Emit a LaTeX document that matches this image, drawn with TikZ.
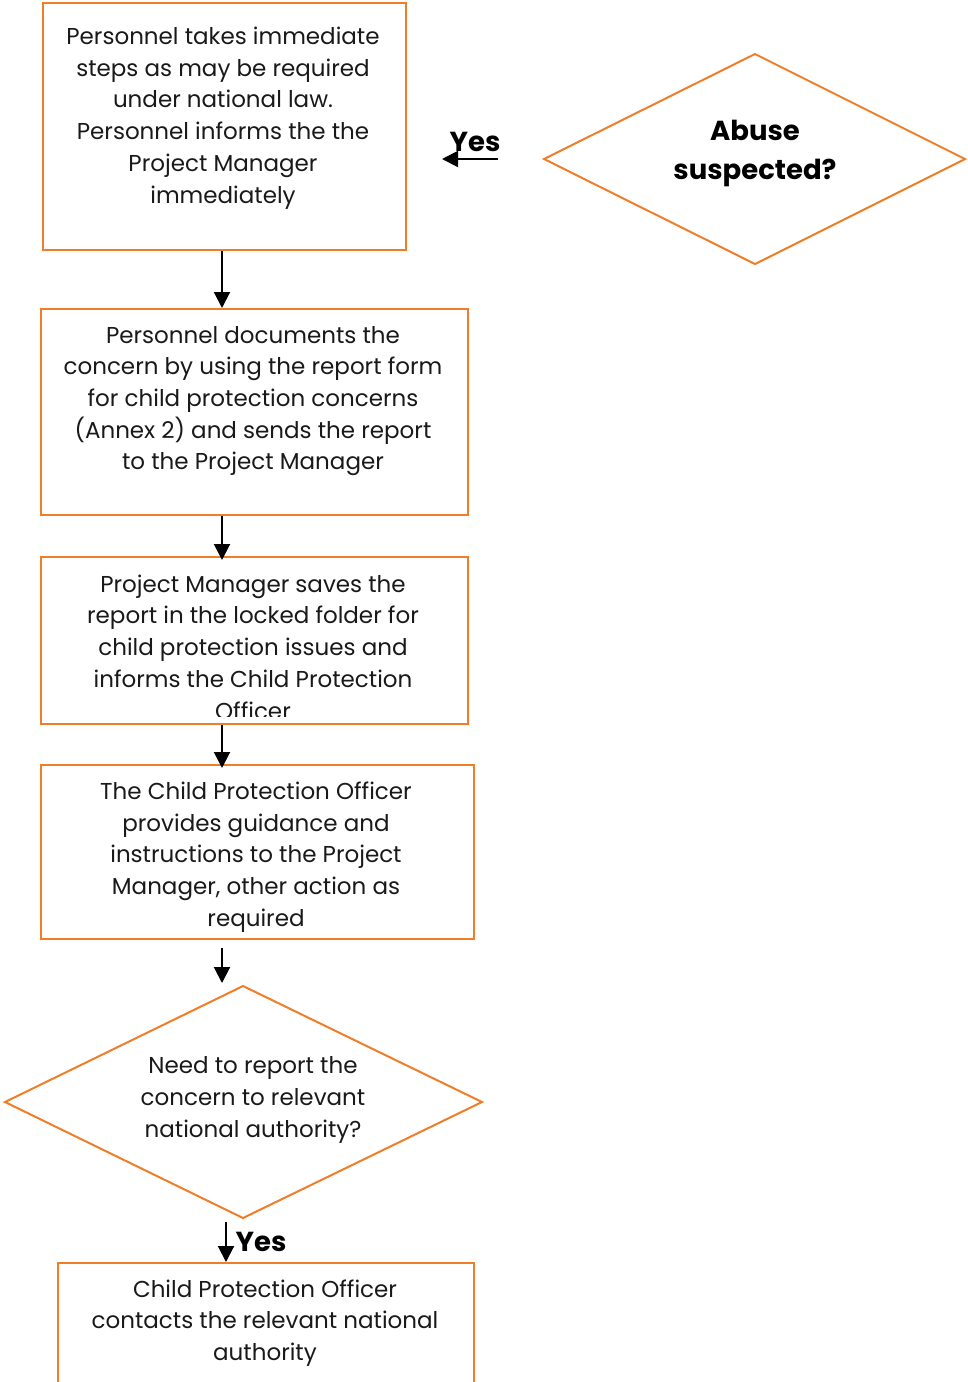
\documentclass[tikz,border=0pt]{standalone}
\usepackage{fontspec}
\setmainfont{Poppins}
\usetikzlibrary{arrows.meta,shapes.geometric}
\definecolor{bord}{RGB}{240,125,40}
\begin{document}
\begin{tikzpicture}[x=1pt,y=-1pt,
  box/.style={draw=bord,line width=2pt,rectangle,inner sep=0pt,anchor=north west},
  txt/.style={align=center,font=\fontsize{23}{31.7}\selectfont,text=black!90,inner sep=0pt},
  btxt/.style={align=center,font=\fontsize{27.5}{39}\selectfont\bfseries,inner sep=0pt},
  arr/.style={line width=2pt,-{Triangle[length=16pt,width=16pt]}}]
\useasboundingbox (0,0) rectangle (967,1382);
% boxes
\node[box,minimum width=363pt,minimum height=247pt] (b1) at (42,2) {};
\node[box,minimum width=427pt,minimum height=206pt] (b2) at (40,308) {};
\node[box,minimum width=427pt,minimum height=167pt] (b3) at (40,556) {};
\node[box,minimum width=433pt,minimum height=174pt] (b4) at (40,764) {};
\node[box,minimum width=416pt,minimum height=125pt] (b5) at (57,1262) {};
% diamonds
\draw[draw=bord,line width=2pt] (544,159) -- (755,54) -- (965,159) -- (755,264) -- cycle;
\draw[draw=bord,line width=2pt] (5,1102) -- (243,986) -- (482,1102) -- (243,1218) -- cycle;
\coordinate (d2n) at (243,986);
\coordinate (d2s) at (243,1218);
% texts
\node[txt] (t1) at (223,118) {Personnel takes immediate\\steps as may be required\\under national law.\\Personnel informs the the\\Project Manager\\immediately};
\node[txt] (t2) at (253,401) {Personnel documents the\\concern by using the report form\\for child protection concerns\\(Annex 2) and sends the report\\to the Project Manager};
\begin{scope}
\clip (40,556) rectangle (467,716);
\node[txt] (t3) at (253,647) {Project Manager saves the\\report in the locked folder for\\child protection issues and\\informs the Child Protection\\Officer};
\end{scope}
\node[txt] (t4) at (256,857) {The Child Protection Officer\\provides guidance and\\instructions to the Project\\Manager, other action as\\required};
\node[txt] (t5) at (253,1100) {Need to report the\\concern to relevant\\national authority?};
\node[txt] (t6) at (265,1323) {Child Protection Officer\\contacts the relevant national\\authority};
\node[btxt] (t7) at (755,153) {Abuse\\suspected?};
\node[btxt,anchor=base] (y1) at (475,151) {Yes};
\node[btxt,anchor=base] (y2) at (261,1251) {Yes};
% arrows
\coordinate (xa) at (222,0);
\coordinate (xb) at (226,0);
\coordinate (ya) at (498,159);
\coordinate (yb) at (442,159);
\draw[arr] (ya) -- (yb);
\draw[arr] (b1.south -| xa) -- (b2.north -| xa);
\draw[arr] (b2.south -| xa) -- ([yshift=-4pt]b3.north -| xa);
\draw[arr] (b3.south -| xa) -- ([yshift=-4pt]b4.north -| xa);
\draw[arr,shorten <=8pt,shorten >=3pt] (b4.south -| xa) -- (d2n -| xa);
\draw[arr,shorten <=4pt] (d2s -| xb) -- (b5.north -| xb);
\end{tikzpicture}
\end{document}
